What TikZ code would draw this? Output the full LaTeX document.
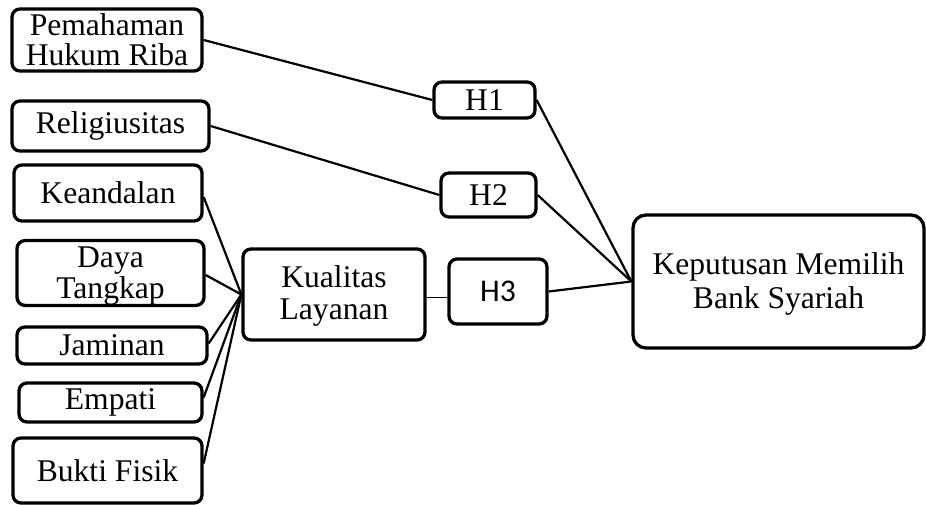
\documentclass[tikz,border=0pt]{standalone}
\usepackage{fontspec}
\setmainfont{Liberation Serif}
\newfontfamily\hsans{Carlito}
\begin{document}
\begin{tikzpicture}[x=1pt,y=1pt,
  box/.style={draw, line width=3.3pt, rounded corners=8pt, inner sep=0pt, align=center, font=\fontsize{31.6}{32}\selectfont},
  link/.style={line width=2.2pt},
  thinlink/.style={line width=1pt}]
\useasboundingbox (0,0) rectangle (926,-505);
% left column
\node[box, minimum width=190pt, minimum height=62pt, font=\fontsize{31.6}{30}\selectfont] (pem) at (107,-40) {Pemahaman\\Hukum Riba};
\node[box, minimum width=197pt, minimum height=50pt] (rel) at (110.5,-126) {Religiusitas};
\node[box, minimum width=188pt, minimum height=56pt] (kea) at (108,-193) {Keandalan};
\node[box, minimum width=187pt, minimum height=62pt, text height=58pt, font=\fontsize{31.6}{31}\selectfont] (daya) at (110.5,-273) {Daya\\Tangkap};
\node[box, minimum width=190pt, minimum height=37pt] (jam) at (112,-345.5) {Jaminan};
\node[box, minimum width=183pt, minimum height=39pt] (emp) at (110.5,-402.5) {Empati};
\node[box, minimum width=189pt, minimum height=65pt] (buk) at (107.5,-470.5) {Bukti Fisik};
% middle
\node[box, minimum width=182pt, minimum height=91pt, text height=57pt] (kual) at (334,-294.5) {Kualitas\\Layanan};
\node[box, minimum width=101pt, minimum height=36pt] (h1) at (484.5,-100) {H1};
\node[box, minimum width=95pt, minimum height=44pt] (h2) at (488.5,-195) {H2};
\node[box, minimum width=98pt, minimum height=65pt, font=\hsans\fontsize{31.6}{32}\selectfont] (h3) at (498,-291.5) {H3};
% right
\node[box, minimum width=291pt, minimum height=133pt, rounded corners=13pt, text height=60pt, font=\fontsize{31.6}{34}\selectfont] (kep) at (778.5,-281.5) {Keputusan Memilih\\Bank Syariah};
% connectors
\draw[link] (pem.east) -- (h1.west);
\draw[link] (rel.east) -- (h2.west);
\draw[link] (h1.east) -- (kep.west);
\draw[link] (h2.east) -- (kep.west);
\draw[link] (h3.east) -- (kep.west);
\draw[link] ([yshift=-4pt]kea.east) -- (kual.west);
\draw[link] ([yshift=-2pt]daya.east) -- (kual.west);
\draw[link] ([yshift=2pt]jam.east) -- (kual.west);
\draw[link] ([yshift=5pt]emp.east) -- (kual.west);
\draw[link] ([yshift=7pt]buk.east) -- (kual.west);
\draw[thinlink] ([yshift=-2.5pt]kual.east) -- ([yshift=-2.5pt]kual.east -| h3.west);
\end{tikzpicture}
\end{document}
